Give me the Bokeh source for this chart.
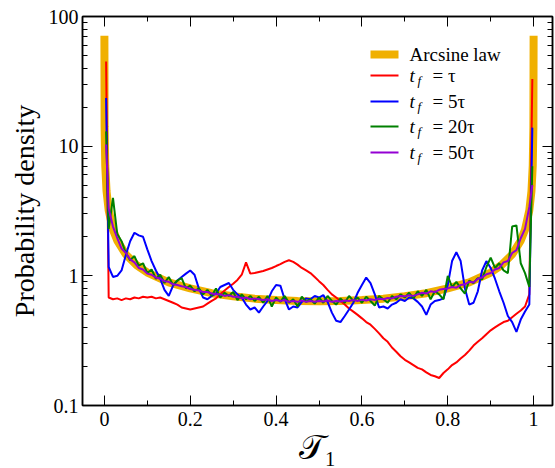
from bokeh.plotting import figure
from bokeh.models import (FixedTicker, LinearAxis, LogAxis, Range1d,
                          CustomJSTickFormatter, Label, BoxAnnotation)
from bokeh.embed import file_html
from bokeh.resources import INLINE

# ---------------- data ----------------
arc_x = [0.00002, 0.0005, 0.002, 0.005, 0.01, 0.02, 0.03, 0.05, 0.075, 0.1,
         0.15, 0.2, 0.25, 0.3, 0.35, 0.4, 0.45, 0.5, 0.55, 0.6,
         0.65, 0.7, 0.75, 0.8, 0.85, 0.9, 0.925, 0.95, 0.97, 0.98,
         0.99, 0.995, 0.998, 0.9995, 0.99998]
arc_y = [71, 14.2, 7.1, 4.5, 3.2, 2.27, 1.87, 1.46, 1.21, 1.06,
         0.89, 0.80, 0.735, 0.695, 0.667, 0.65, 0.64, 0.637, 0.64, 0.65,
         0.667, 0.695, 0.735, 0.80, 0.89, 1.06, 1.21, 1.46, 1.87, 2.27,
         3.2, 4.5, 7.1, 14.2, 71]

tau1 = [0.004,
        0.01, 0.02, 0.03, 0.04, 0.05, 0.06, 0.07, 0.08, 0.09, 0.10,
        0.11, 0.12, 0.13, 0.14, 0.15, 0.16, 0.17, 0.18, 0.19, 0.20,
        0.21, 0.22, 0.23, 0.24, 0.25, 0.26, 0.27, 0.28, 0.29, 0.30,
        0.31, 0.32, 0.33, 0.34, 0.35, 0.36, 0.37, 0.38, 0.39, 0.40,
        0.41, 0.42, 0.43, 0.44, 0.45, 0.46, 0.47, 0.48, 0.49, 0.50,
        0.51, 0.52, 0.53, 0.54, 0.55, 0.56, 0.57, 0.58, 0.59, 0.60,
        0.61, 0.62, 0.63, 0.64, 0.65, 0.66, 0.67, 0.68, 0.69, 0.70,
        0.71, 0.72, 0.73, 0.74, 0.75, 0.76, 0.77, 0.78, 0.79, 0.80,
        0.81, 0.82, 0.83, 0.84, 0.85, 0.86, 0.87, 0.88, 0.89, 0.90,
        0.91, 0.92, 0.93, 0.94, 0.95, 0.96, 0.97, 0.98, 0.99,
        0.997]

p_tf1 = [45,
         0.68, 0.66, 0.67, 0.65, 0.67, 0.66, 0.68, 0.67, 0.69, 0.68,
         0.69, 0.67, 0.68, 0.66, 0.64, 0.62, 0.60, 0.57, 0.56, 0.55,
         0.56, 0.57, 0.58, 0.61, 0.64, 0.67, 0.72, 0.77, 0.82, 0.87,
         0.93, 1.02, 1.27, 1.04, 1.05, 1.07, 1.09, 1.12, 1.15, 1.19,
         1.23, 1.28, 1.32, 1.28, 1.22, 1.15, 1.10, 1.05, 0.98, 0.91,
         0.85, 0.78, 0.72, 0.68, 0.64, 0.60, 0.56, 0.53, 0.50, 0.47,
         0.44, 0.42, 0.39, 0.36, 0.33, 0.31, 0.28, 0.26, 0.24, 0.225,
         0.215, 0.205, 0.195, 0.19, 0.18, 0.172, 0.168, 0.163, 0.178, 0.19,
         0.205, 0.215, 0.23, 0.245, 0.265, 0.29, 0.31, 0.33, 0.355, 0.38,
         0.40, 0.42, 0.44, 0.45, 0.48, 0.51, 0.54, 0.58, 0.72,
         33]

p_tf5 = [23.5,
         1.17, 0.98, 1.00, 1.10, 1.45, 1.85, 2.15, 2.05, 2.00, 1.60,
         1.30, 1.10, 0.95, 0.78, 0.70, 0.84, 0.92, 0.98, 1.04, 1.10,
         1.02, 0.80, 0.68, 0.66, 0.70, 0.73, 0.82, 0.85, 0.88, 0.78,
         0.72, 0.68, 0.60, 0.55, 0.57, 0.52, 0.58, 0.64, 0.76, 0.85,
         0.84, 0.66, 0.55, 0.58, 0.57, 0.63, 0.67, 0.66, 0.70, 0.68,
         0.71, 0.63, 0.52, 0.45, 0.44, 0.49, 0.55, 0.62, 0.74, 0.85,
         0.97, 0.88, 0.72, 0.57, 0.58, 0.56, 0.60, 0.62, 0.66, 0.64,
         0.68, 0.67, 0.63, 0.58, 0.50, 0.60, 0.64, 0.65, 0.67, 0.85,
         1.30, 1.52, 1.30, 0.80, 0.60, 0.62, 0.76, 1.10, 1.30, 1.15,
         0.95, 0.76, 0.62, 0.49, 0.44, 0.37, 0.46, 0.53, 0.60,
         13.9]

p_tf20 = [13,
          2.3, 4.0, 2.1, 1.85, 1.50, 1.32, 1.42, 1.20, 1.25, 1.05,
          1.12, 0.95, 1.02, 0.88, 0.98, 0.85, 0.92, 0.96, 0.80, 0.84,
          0.76, 0.80, 0.72, 0.78, 0.70, 0.80, 0.68, 0.74, 0.70, 0.75,
          0.65, 0.72, 0.66, 0.70, 0.64, 0.69, 0.62, 0.70, 0.58, 0.68,
          0.63, 0.70, 0.62, 0.66, 0.58, 0.69, 0.63, 0.66, 0.61, 0.68,
          0.62, 0.70, 0.64, 0.60, 0.67, 0.62, 0.70, 0.64, 0.68, 0.62,
          0.69, 0.64, 0.59, 0.70, 0.66, 0.62, 0.70, 0.66, 0.72, 0.68,
          0.74, 0.67, 0.76, 0.70, 0.78, 0.66, 0.76, 0.72, 0.66, 1.00,
          0.82, 0.90, 0.80, 0.73, 0.92, 0.88, 0.96, 0.94, 1.17, 1.38,
          1.15, 1.25, 1.10, 1.05, 2.40, 2.45, 1.25, 1.05, 0.82,
          7.0]

p_tf50 = [10.3,
          3.3, 2.4, 1.95, 1.62, 1.50, 1.34, 1.27, 1.15, 1.12, 1.04,
          1.02, 0.97, 0.95, 0.91, 0.90, 0.86, 0.85, 0.83, 0.82, 0.79,
          0.78, 0.77, 0.75, 0.75, 0.73, 0.72, 0.72, 0.70, 0.71, 0.69,
          0.69, 0.67, 0.68, 0.66, 0.67, 0.66, 0.65, 0.66, 0.64, 0.65,
          0.64, 0.65, 0.63, 0.64, 0.63, 0.645, 0.63, 0.64, 0.63, 0.64,
          0.635, 0.645, 0.63, 0.64, 0.635, 0.645, 0.64, 0.65, 0.64, 0.655,
          0.645, 0.66, 0.65, 0.665, 0.66, 0.675, 0.67, 0.69, 0.70, 0.695,
          0.71, 0.70, 0.72, 0.74, 0.73, 0.76, 0.75, 0.78, 0.79, 0.80,
          0.82, 0.81, 0.85, 0.86, 0.90, 0.89, 0.95, 0.97, 1.03, 1.05,
          1.12, 1.15, 1.27, 1.30, 1.50, 1.58, 1.95, 2.3, 3.4,
          5.0]

x_major = [0, 0.2, 0.4, 0.6, 0.8, 1]
x_minor = [0.1, 0.3, 0.5, 0.7, 0.9]
y_major = [0.1, 1, 10, 100]
y_minor = [0.2, 0.3, 0.4, 0.5, 0.6, 0.7, 0.8, 0.9,
           2, 3, 4, 5, 6, 7, 8, 9,
           20, 30, 40, 50, 60, 70, 80, 90]

legend_first = "Arcsine law"
tf_values = ["τ", "5τ", "20τ", "50τ"]

# ---------------- style ----------------
ORANGE = "#F0B000"
COLORS = ["#FF0000", "#0000FF", "#008000", "#9400D3"]
SERIF = "Liberation Serif"
LABEL_FONT = "'Liberation Serif', serif"

p = figure(width=555, height=468, y_axis_type="log",
           x_range=Range1d(-0.051, 1.044), y_range=Range1d(0.1, 100),
           output_backend="svg", toolbar_location=None,
           min_border_left=82, min_border_right=3,
           min_border_top=16, min_border_bottom=56)
p.grid.visible = False
p.outline_line_color = "black"
p.outline_line_width = 1.5
p.background_fill_color = "white"
p.border_fill_color = "white"

fmt = CustomJSTickFormatter(code="return String(tick)")
blank = CustomJSTickFormatter(code="return ''")


def style_axis(ax):
    ax.major_tick_in = 10
    ax.major_tick_out = 0
    ax.minor_tick_in = 5
    ax.minor_tick_out = 0
    ax.axis_line_width = 1.5
    ax.axis_line_color = "black"
    ax.major_tick_line_color = "black"
    ax.minor_tick_line_color = "black"
    ax.major_label_text_font = SERIF
    ax.major_label_text_font_size = "20px"
    ax.major_label_text_color = "black"
    ax.axis_label_text_font = SERIF
    ax.axis_label_text_font_style = "normal"
    ax.axis_label_text_color = "black"


xt = FixedTicker(ticks=x_major, minor_ticks=x_minor)
yt = FixedTicker(ticks=y_major, minor_ticks=y_minor)

xa = p.xaxis[0]
xa.ticker = xt
xa.formatter = fmt
style_axis(xa)
xa.major_label_standoff = 6
xa.axis_label = "𝒯₁"
xa.axis_label_text_font_size = "34px"
xa.axis_label_standoff = 0

ya = p.yaxis[0]
ya.ticker = yt
ya.formatter = fmt
style_axis(ya)
ya.major_label_standoff = 4
ya.axis_label = "Probability density"
ya.axis_label_text_font_size = "28px"
ya.axis_label_standoff = 6

top = LinearAxis(ticker=xt, formatter=blank)
style_axis(top)
top.major_label_standoff = 0
p.add_layout(top, "above")

right = LogAxis(ticker=yt, formatter=blank)
style_axis(right)
right.major_label_standoff = 0
p.add_layout(right, "right")

# ---------------- curves ----------------
p.line(arc_x, arc_y, line_color=ORANGE, line_width=8)
for ys, c in zip([p_tf1, p_tf5, p_tf20, p_tf50], COLORS):
    p.line(tau1, ys, line_color=c, line_width=2)

# ---------------- legend (screen units, frame-relative) ----------------
sample_l, sample_r = 288, 316
text_x, sub_x, eq_x = 327, 335, 350
row_y = [351, 330, 304, 279, 253]

p.add_layout(BoxAnnotation(left=sample_l, right=sample_r,
                           bottom=row_y[0] - 4, top=row_y[0] + 4,
                           left_units="screen", right_units="screen",
                           top_units="screen", bottom_units="screen",
                           fill_color=ORANGE, fill_alpha=1, line_color=None))
p.add_layout(Label(x=text_x, y=row_y[0], x_units="screen", y_units="screen",
                   text=legend_first, text_font=LABEL_FONT, text_font_size="19px",
                   text_baseline="middle", text_color="black"))

for val, c, ry in zip(tf_values, COLORS, row_y[1:]):
    p.add_layout(BoxAnnotation(left=sample_l, right=sample_r,
                               bottom=ry - 1, top=ry + 1,
                               left_units="screen", right_units="screen",
                               top_units="screen", bottom_units="screen",
                               fill_color=c, fill_alpha=1, line_color=None))
    p.add_layout(Label(x=text_x, y=ry, x_units="screen", y_units="screen",
                       text="t", text_font=LABEL_FONT, text_font_size="19px",
                       text_font_style="italic", text_baseline="middle",
                       text_color="black"))
    p.add_layout(Label(x=sub_x, y=ry - 5, x_units="screen", y_units="screen",
                       text="f", text_font=LABEL_FONT, text_font_size="13px",
                       text_font_style="italic", text_baseline="middle",
                       text_color="black"))
    p.add_layout(Label(x=eq_x, y=ry, x_units="screen", y_units="screen",
                       text="= " + val, text_font=LABEL_FONT, text_font_size="19px",
                       text_baseline="middle", text_color="black"))

open("out.html", "w").write(file_html(p, INLINE))
